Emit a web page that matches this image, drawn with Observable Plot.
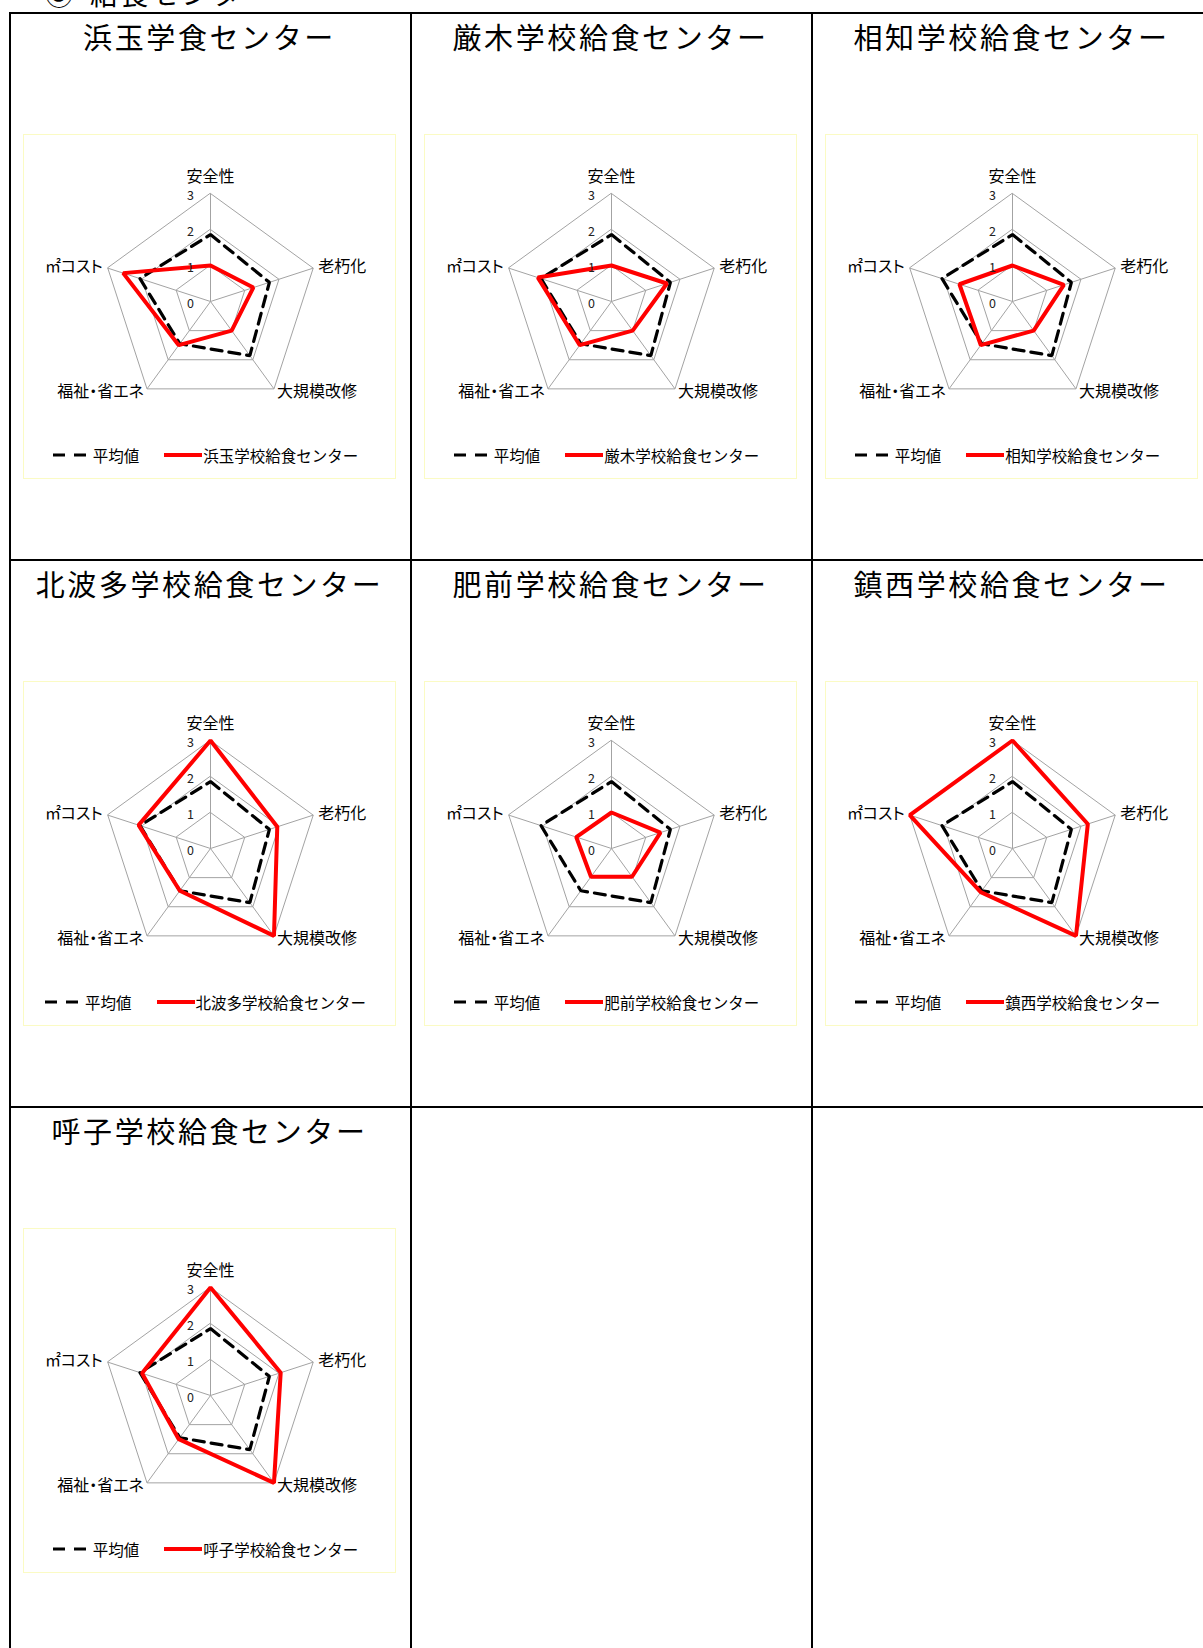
<!DOCTYPE html>
<html><head><meta charset="utf-8">
<script src="https://cdn.jsdelivr.net/npm/d3@7"></script>
<script src="https://cdn.jsdelivr.net/npm/@observablehq/plot@0.6"></script>
<style>
body{margin:0;background:#fff;width:1203px;height:1648px;overflow:hidden;position:relative;font-family:"Noto Sans CJK JP","Noto Sans",sans-serif;color:#000}
.hline{position:absolute;left:9px;right:0;height:2px;background:#000}
.vline{position:absolute;top:12px;bottom:0;width:2px;background:#000}
.cell{position:absolute;width:401px;height:547px}
.title{position:absolute;left:0;width:401px;top:7px;text-align:center;font-size:29px;letter-spacing:2.6px;line-height:34px;white-space:nowrap}
.frame{position:absolute;left:14px;top:122px;width:371px;height:343px;border:1.5px solid #fbfbc4}
.frame svg{position:absolute;left:0;top:0;overflow:visible}
.legend{position:absolute;left:0;width:363px;top:310px;display:flex;justify-content:center;align-items:center;font-size:15.5px;line-height:20px;white-space:nowrap}
.legend svg{position:static}
.header{position:absolute;left:45px;top:-21px;font-size:28px;line-height:28px;white-space:nowrap}
.header .rest{position:absolute;left:45px;top:0;letter-spacing:2.5px}
</style>
</head><body>
<div class="header"><span>③</span><span class="rest">給食センター</span></div>
<div id="root"></div>
<script>
// ---- data ----
const axes = ["安全性", "老朽化", "大規模改修", "福祉・省エネ", "㎡コスト"];
const tickValues = [0, 1, 2, 3];
const average = [1.86, 1.72, 1.86, 1.45, 2.06];
const hamatama = [1.0, 1.25, 1.0, 1.5, 2.55];
const kyuragi = [1.0, 1.62, 1.0, 1.5, 2.15];
const ouchi = [1.0, 1.5, 1.0, 1.5, 1.55];
const kitahata = [3.0, 1.95, 3.0, 1.45, 2.1];
const hizen = [1.0, 1.43, 0.97, 0.97, 1.03];
const chinzei = [3.0, 2.2, 3.0, 1.5, 3.0];
const yobuko = [3.0, 2.05, 3.0, 1.5, 2.0];
const chartTitles = ["浜玉学食センター", "厳木学校給食センター", "相知学校給食センター", "北波多学校給食センター", "肥前学校給食センター", "鎮西学校給食センター", "呼子学校給食センター"];
const seriesNames = ["浜玉学校給食センター", "厳木学校給食センター", "相知学校給食センター", "北波多学校給食センター", "肥前学校給食センター", "鎮西学校給食センター", "呼子学校給食センター"];
const seriesValues = [hamatama, kyuragi, ouchi, kitahata, hizen, chinzei, yobuko];
const averageName = "平均値";

// ---- layout / style ----
const root = document.getElementById("root");
const colX = [9, 410, 811];
const rowY = [12, 559, 1106];
for (const y of rowY) { const d = document.createElement("div"); d.className = "hline"; d.style.top = y + "px"; root.appendChild(d); }
for (const x of colX) { const d = document.createElement("div"); d.className = "vline"; d.style.left = x + "px"; root.appendChild(d); }

const unit = 36;          // px per value unit
const W = 371, H = 290;   // svg size
const cx = 186, cy = 166; // center inside svg
const N = axes.length;
const ang = i => i * 2 * Math.PI / N;
const px = (v, i) => v * Math.sin(ang(i));
const py = (v, i) => v * Math.cos(ang(i));
const poly = vals => vals.map((v, i) => ({axis: axes[i], v, x: px(v, i), y: py(v, i)}));
const labelAnchor = ["middle", "start", "start", "end", "end"];
const labelDx = [0, 5, 3, -3, -5];
const labelDy = [-17, -1, 3, 3, -1];
const maxV = d3.max(tickValues);
const rings = tickValues.filter(t => t > 0);

function radar(vals) {
  const marks = [];
  for (const t of rings) {
    marks.push(Plot.line(poly(axes.map(() => t)), {x: "x", y: "y", curve: "linear-closed", stroke: "#a3a3a3", strokeWidth: 1}));
  }
  marks.push(Plot.link(axes, {x1: () => 0, y1: () => 0, x2: (d, i) => px(maxV, i), y2: (d, i) => py(maxV, i), stroke: "#a3a3a3", strokeWidth: 1}));
  marks.push(Plot.line(poly(average), {x: "x", y: "y", curve: "linear-closed", stroke: "#000", strokeWidth: 3.2, strokeDasharray: "11,7", strokeLinejoin: "miter"}));
  marks.push(Plot.line(poly(vals), {x: "x", y: "y", curve: "linear-closed", stroke: "#ff0000", strokeWidth: 4, strokeLinejoin: "miter"}));
  axes.forEach((a, i) => {
    marks.push(Plot.text([a], {x: () => px(maxV, i), y: () => py(maxV, i), text: d => d, textAnchor: labelAnchor[i], dx: labelDx[i], dy: labelDy[i], fontSize: 16, fill: "#000"}));
  });
  marks.push(Plot.text(tickValues, {x: () => 0, y: d => d, text: d => String(d), dx: -20, dy: 2, fontSize: 12.5, fill: "#222"}));
  return Plot.plot({
    width: W, height: H, margin: 0,
    x: {domain: [-cx / unit, (W - cx) / unit], axis: null},
    y: {domain: [-(H - cy) / unit, cy / unit], axis: null},
    style: {background: "transparent", fontFamily: '"Noto Sans CJK JP", sans-serif', overflow: "visible", fontFeatureSettings: '"palt"'},
    marks
  });
}

function sample(kind) {
  const ns = "http://www.w3.org/2000/svg";
  const s = document.createElementNS(ns, "svg");
  const w = kind === "dash" ? 33 : 38;
  s.setAttribute("width", w); s.setAttribute("height", 8);
  const l = document.createElementNS(ns, "line");
  l.setAttribute("x1", 0); l.setAttribute("x2", w); l.setAttribute("y1", 4); l.setAttribute("y2", 4);
  if (kind === "dash") { l.setAttribute("stroke", "#000"); l.setAttribute("stroke-width", 3); l.setAttribute("stroke-dasharray", "12,9"); }
  else { l.setAttribute("stroke", "#ff0000"); l.setAttribute("stroke-width", 4); }
  s.appendChild(l);
  return s;
}

seriesValues.forEach((vals, k) => {
  const col = k % 3, row = Math.floor(k / 3);
  const cell = document.createElement("div");
  cell.className = "cell";
  cell.style.left = colX[col] + "px";
  cell.style.top = rowY[row] + "px";
  const t = document.createElement("div");
  t.className = "title"; t.textContent = chartTitles[k];
  cell.appendChild(t);
  const frame = document.createElement("div");
  frame.className = "frame";
  frame.appendChild(radar(vals));
  const lg = document.createElement("div");
  lg.className = "legend";
  const s1 = sample("dash"); s1.style.marginRight = "7px"; lg.appendChild(s1);
  const t1 = document.createElement("span"); t1.textContent = averageName; t1.style.marginRight = "25px"; lg.appendChild(t1);
  const s2 = sample("solid"); s2.style.marginRight = "1px"; lg.appendChild(s2);
  const t2 = document.createElement("span"); t2.textContent = seriesNames[k]; lg.appendChild(t2);
  frame.appendChild(lg);
  cell.appendChild(frame);
  root.appendChild(cell);
});
</script>
</body></html>
